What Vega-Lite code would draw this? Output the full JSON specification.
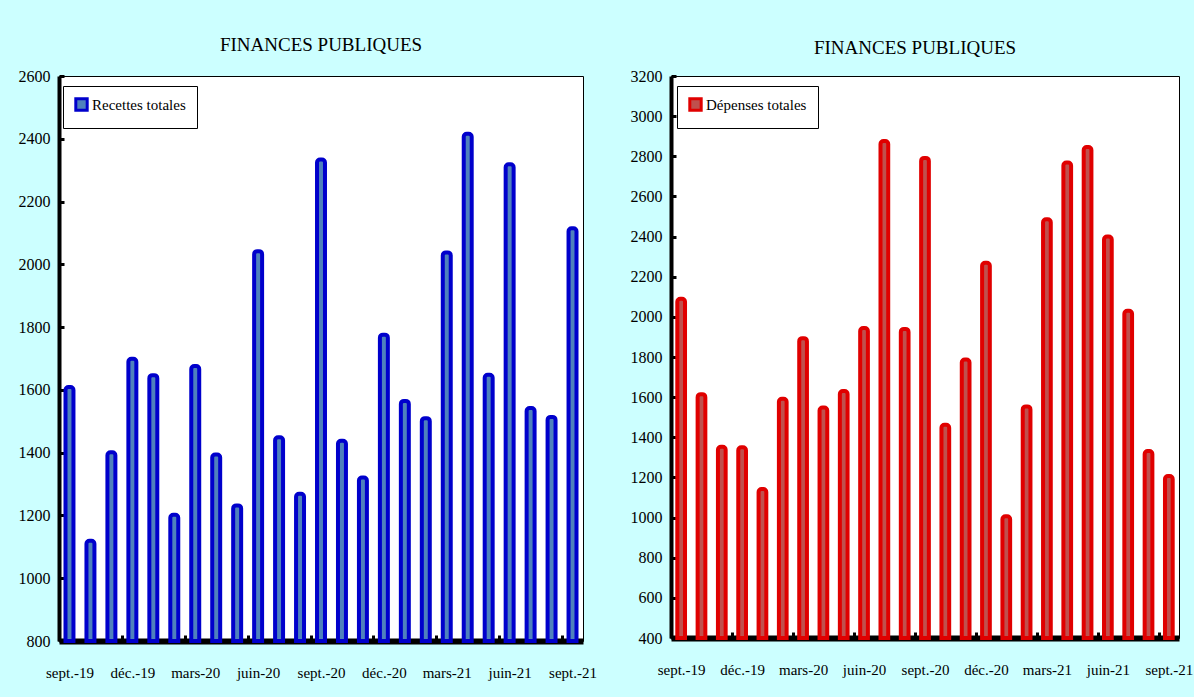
{
  "$schema": "https://vega.github.io/schema/vega-lite/v6.json",
  "background": "#ccffff",
  "padding": {"left": 17, "top": 35, "right": 1, "bottom": 16},
  "data": {
    "values": [
      {"mois": "sept.-19", "recettes": 1609, "depenses": 2090},
      {"mois": "oct.-19", "recettes": 1119, "depenses": 1615},
      {"mois": "nov.-19", "recettes": 1401, "depenses": 1353},
      {"mois": "déc.-19", "recettes": 1699, "depenses": 1350},
      {"mois": "janv.-20", "recettes": 1647, "depenses": 1142},
      {"mois": "févr.-20", "recettes": 1202, "depenses": 1592},
      {"mois": "mars-20", "recettes": 1676, "depenses": 1894},
      {"mois": "avr.-20", "recettes": 1394, "depenses": 1548},
      {"mois": "mai-20", "recettes": 1232, "depenses": 1630},
      {"mois": "juin-20", "recettes": 2042, "depenses": 1944},
      {"mois": "juil.-20", "recettes": 1449, "depenses": 2876},
      {"mois": "août-20", "recettes": 1269, "depenses": 1940},
      {"mois": "sept.-20", "recettes": 2334, "depenses": 2792},
      {"mois": "oct.-20", "recettes": 1438, "depenses": 1462},
      {"mois": "nov.-20", "recettes": 1321, "depenses": 1787},
      {"mois": "déc.-20", "recettes": 1776, "depenses": 2270},
      {"mois": "janv.-21", "recettes": 1565, "depenses": 1006},
      {"mois": "févr.-21", "recettes": 1510, "depenses": 1554},
      {"mois": "mars-21", "recettes": 2038, "depenses": 2486},
      {"mois": "avr.-21", "recettes": 2416, "depenses": 2769},
      {"mois": "mai-21", "recettes": 1648, "depenses": 2846},
      {"mois": "juin-21", "recettes": 2319, "depenses": 2400},
      {"mois": "juil.-21", "recettes": 1542, "depenses": 2030},
      {"mois": "août-21", "recettes": 1514, "depenses": 1332},
      {"mois": "sept.-21", "recettes": 2115, "depenses": 1207}
    ]
  },
  "bounds": "flush",
  "spacing": 88,
  "resolve": {"scale": {"x": "independent", "y": "independent", "color": "independent"}, "legend": {"color": "independent"}},
  "hconcat": [
    {
      "width": 524,
      "height": 565,
      "title": {"text": "FINANCES PUBLIQUES", "offset": 13},
      "mark": {"type": "bar", "stroke": "#0000cc", "strokeWidth": 4, "cornerRadiusTopLeft": 3, "cornerRadiusTopRight": 3},
      "encoding": {
        "x": {
          "field": "mois", "type": "nominal", "sort": null,
          "scale": {"paddingInner": 0.62, "paddingOuter": 0.31},
          "axis": {
            "values": ["sept.-19", "déc.-19", "mars-20", "juin-20", "sept.-20", "déc.-20", "mars-21", "juin-21", "sept.-21"],
            "tickOffset": -10.48, "labelOffset": 10.48, "labelAngle": 0
          }
        },
        "y": {
          "field": "recettes", "type": "quantitative",
          "scale": {"domain": [800, 2600], "zero": false, "nice": false},
          "axis": {"values": [800, 1000, 1200, 1400, 1600, 1800, 2000, 2200, 2400, 2600], "format": "d"}
        },
        "y2": {"datum": 800},
        "color": {
          "datum": "Recettes totales", "type": "nominal",
          "scale": {"range": ["#4f81bd"]},
          "legend": {"symbolStrokeColor": "#0000cc", "legendX": 4, "legendY": 10}
        }
      }
    },
    {
      "width": 508,
      "height": 562,
      "title": {"text": "FINANCES PUBLIQUES", "offset": 10, "dx": -10},
      "mark": {"type": "bar", "stroke": "#e00000", "strokeWidth": 4, "cornerRadiusTopLeft": 3, "cornerRadiusTopRight": 3},
      "encoding": {
        "x": {
          "field": "mois", "type": "nominal", "sort": null,
          "scale": {"paddingInner": 0.62, "paddingOuter": 0.31},
          "axis": {
            "values": ["sept.-19", "déc.-19", "mars-20", "juin-20", "sept.-20", "déc.-20", "mars-21", "juin-21", "sept.-21"],
            "tickOffset": -10.16, "labelOffset": 10.16, "labelAngle": 0
          }
        },
        "y": {
          "field": "depenses", "type": "quantitative",
          "scale": {"domain": [400, 3200], "zero": false, "nice": false},
          "axis": {"values": [400, 600, 800, 1000, 1200, 1400, 1600, 1800, 2000, 2200, 2400, 2600, 2800, 3000, 3200], "format": "d"}
        },
        "y2": {"datum": 400},
        "color": {
          "datum": "Dépenses totales", "type": "nominal",
          "scale": {"range": ["#c0504d"]},
          "legend": {"symbolStrokeColor": "#e00000", "legendX": 6, "legendY": 10}
        }
      }
    }
  ],
  "config": {
    "font": "Liberation Serif",
    "view": {"fill": "white", "stroke": "black", "strokeWidth": 1},
    "title": {"font": "Liberation Serif", "fontSize": 19, "fontWeight": "normal", "color": "black", "anchor": "middle"},
    "axis": {"title": null, "grid": false, "zindex": 1, "domainColor": "black", "tickColor": "black", "labelColor": "black", "labelFont": "Liberation Serif"},
    "axisX": {"domainWidth": 6, "tickSize": -6, "tickWidth": 3, "labelFontSize": 15, "labelPadding": 30, "labelFont": "Liberation Serif"},
    "axisY": {"domainWidth": 4, "tickSize": -5, "tickWidth": 3, "labelFontSize": 16, "labelPadding": 14, "labelFont": "Liberation Serif"},
    "legend": {
      "orient": "none", "title": null, "padding": 11,
      "strokeColor": "black", "fillColor": "white",
      "symbolType": "square", "symbolSize": 130, "symbolStrokeWidth": 3, "symbolOpacity": 1,
      "labelFont": "Liberation Serif", "labelFontSize": 15, "labelColor": "black", "labelOffset": 3
    }
  }
}
